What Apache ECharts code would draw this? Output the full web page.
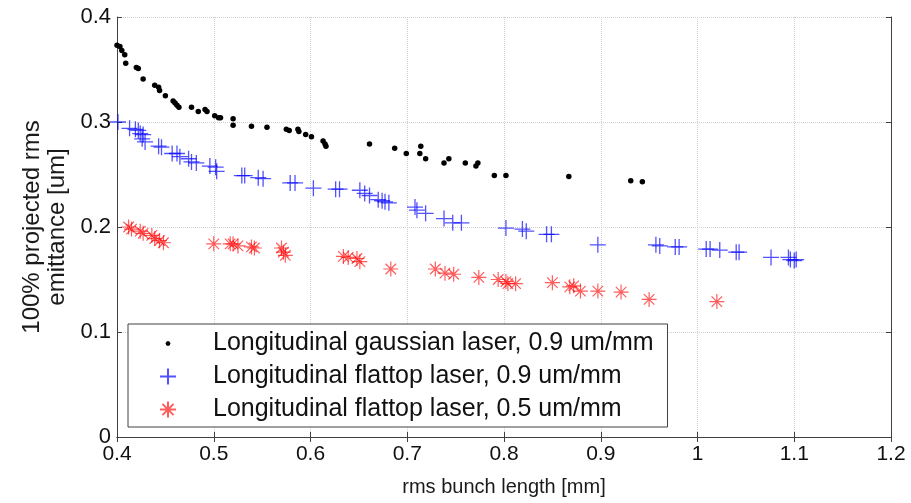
<!DOCTYPE html>
<html>
<head>
<meta charset="utf-8">
<script src="https://cdn.jsdelivr.net/npm/echarts@6/dist/echarts.min.js"></script>
<style>
  html, body { margin: 0; padding: 0; background: #fff; }
  #chart { width: 911px; height: 503px; }
</style>
</head>
<body>
<div id="chart"></div>
<script>
// gaussian laser, 0.9 um/mm
var gaussX = [0.400, 0.403, 0.405, 0.408, 0.409, 0.420, 0.422, 0.427, 0.439, 0.443, 0.444, 0.450, 0.458, 0.460, 0.462, 0.464, 0.477, 0.484, 0.491, 0.493, 0.501, 0.505, 0.507, 0.520, 0.520, 0.539, 0.555, 0.575, 0.578, 0.587, 0.588, 0.595, 0.601, 0.613, 0.615, 0.616, 0.661, 0.687, 0.699, 0.714, 0.713, 0.719, 0.738, 0.743, 0.760, 0.771, 0.773, 0.790, 0.802, 0.867, 0.931, 0.943];
var gaussY = [0.373, 0.372, 0.368, 0.364, 0.356, 0.352, 0.351, 0.341, 0.335, 0.333, 0.330, 0.325, 0.320, 0.318, 0.316, 0.314, 0.314, 0.310, 0.312, 0.310, 0.306, 0.304, 0.304, 0.303, 0.297, 0.296, 0.295, 0.293, 0.292, 0.293, 0.291, 0.288, 0.286, 0.282, 0.279, 0.277, 0.279, 0.275, 0.270, 0.277, 0.270, 0.265, 0.261, 0.265, 0.261, 0.258, 0.261, 0.249, 0.249, 0.248, 0.244, 0.243];
// flattop laser, 0.9 um/mm
var flat9X = [0.401, 0.413, 0.419, 0.422, 0.424, 0.427, 0.426, 0.429, 0.443, 0.446, 0.457, 0.462, 0.465, 0.474, 0.477, 0.482, 0.496, 0.502, 0.503, 0.529, 0.532, 0.546, 0.551, 0.579, 0.584, 0.603, 0.626, 0.630, 0.651, 0.656, 0.661, 0.670, 0.674, 0.677, 0.681, 0.708, 0.710, 0.719, 0.738, 0.747, 0.756, 0.802, 0.819, 0.823, 0.844, 0.849, 0.897, 0.957, 0.961, 0.977, 0.981, 1.009, 1.013, 1.023, 1.040, 1.043, 1.076, 1.094, 1.096, 1.100, 1.102];
var flat9Y = [0.300, 0.294, 0.293, 0.292, 0.289, 0.288, 0.284, 0.281, 0.277, 0.276, 0.270, 0.270, 0.267, 0.265, 0.262, 0.261, 0.258, 0.257, 0.253, 0.249, 0.249, 0.247, 0.246, 0.242, 0.242, 0.237, 0.236, 0.236, 0.235, 0.232, 0.230, 0.226, 0.225, 0.224, 0.223, 0.219, 0.216, 0.213, 0.208, 0.204, 0.204, 0.199, 0.198, 0.196, 0.193, 0.193, 0.183, 0.183, 0.182, 0.181, 0.181, 0.179, 0.179, 0.178, 0.176, 0.176, 0.171, 0.171, 0.169, 0.168, 0.169];
// flattop laser, 0.5 um/mm
var flat5X = [0.412, 0.415, 0.424, 0.427, 0.436, 0.439, 0.444, 0.448, 0.500, 0.517, 0.520, 0.525, 0.539, 0.542, 0.570, 0.572, 0.574, 0.634, 0.639, 0.648, 0.651, 0.683, 0.729, 0.739, 0.748, 0.774, 0.794, 0.802, 0.804, 0.812, 0.850, 0.868, 0.872, 0.879, 0.897, 0.921, 0.950, 1.020];
var flat5Y = [0.200, 0.198, 0.196, 0.194, 0.192, 0.189, 0.187, 0.185, 0.184, 0.184, 0.184, 0.182, 0.181, 0.180, 0.180, 0.176, 0.173, 0.172, 0.171, 0.170, 0.167, 0.160, 0.160, 0.156, 0.155, 0.152, 0.150, 0.148, 0.146, 0.146, 0.147, 0.143, 0.144, 0.139, 0.139, 0.138, 0.131, 0.129];

var seriesNames = [
  'Longitudinal gaussian laser, 0.9 um/mm',
  'Longitudinal flattop laser, 0.9 um/mm',
  'Longitudinal flattop laser, 0.5 um/mm'
];
var xTicks = { min: 0.4, max: 1.2, step: 0.1 };
var yTicks = { min: 0, max: 0.4, step: 0.1 };

function pairs(xs, ys) {
  return xs.map(function (x, i) { return [x, ys[i]]; });
}

var FONT = 'Liberation Sans';
var PLUS = 'path://M0,5L10,5M5,0L5,10';
var STAR = 'path://M0,5L10,5M5,0L5,10M1.5,1.5L8.5,8.5M1.5,8.5L8.5,1.5';
// small dot inside a 16x16 box for the legend
var DOT_ICON = 'path://M0,0M16,16M10.4,8L9.7,9.7L8,10.4L6.3,9.7L5.6,8L6.3,6.3L8,5.6L9.7,6.3Z';

var chart = echarts.init(document.getElementById('chart'));

var frameAxis = {
  type: 'value',
  axisLine: { show: true, lineStyle: { color: '#404040', width: 1 } },
  axisTick: { show: true, inside: true, length: 5, lineStyle: { color: '#404040' } },
  axisLabel: { show: false },
  splitLine: { show: false }
};

var option = {
  animation: false,
  backgroundColor: '#fff',
  grid: { left: 117, right: 20, top: 17, bottom: 66, containLabel: false },
  xAxis: [{
    type: 'value',
    min: xTicks.min, max: xTicks.max, interval: xTicks.step,
    name: 'rms bunch length [mm]',
    nameLocation: 'middle',
    nameGap: 40,
    nameTextStyle: { fontFamily: FONT, fontSize: 20, color: '#1a1a1a' },
    axisLine: { show: true, lineStyle: { color: '#404040', width: 1 } },
    axisTick: { show: true, inside: true, length: 5, lineStyle: { color: '#404040' } },
    axisLabel: { fontFamily: FONT, fontSize: 21, color: '#111', margin: 7 },
    splitLine: { show: true, lineStyle: { type: 'dotted', color: '#cfcfcf', width: 1 } }
  }, Object.assign({}, frameAxis, {
    position: 'top', min: xTicks.min, max: xTicks.max, interval: xTicks.step
  })],
  yAxis: [{
    type: 'value',
    min: yTicks.min, max: yTicks.max, interval: yTicks.step,
    name: '100% projected rms\nemittance [um]',
    nameLocation: 'middle',
    nameGap: 41,
    nameTextStyle: { fontFamily: FONT, fontSize: 24, color: '#1a1a1a', lineHeight: 25 },
    axisLine: { show: true, lineStyle: { color: '#404040', width: 1 } },
    axisTick: { show: true, inside: true, length: 5, lineStyle: { color: '#404040' } },
    axisLabel: { fontFamily: FONT, fontSize: 22, color: '#111', margin: 6 },
    splitLine: { show: true, lineStyle: { type: 'dotted', color: '#cfcfcf', width: 1 } }
  }, Object.assign({}, frameAxis, {
    position: 'right', min: yTicks.min, max: yTicks.max, interval: yTicks.step
  })],
  legend: {
    orient: 'vertical',
    left: 128,
    top: 324,
    padding: [7, 14, 5, 31],
    itemWidth: 16,
    itemHeight: 16,
    itemGap: 8,
    backgroundColor: '#fff',
    borderColor: '#404040',
    borderWidth: 1,
    borderRadius: 0,
    selectedMode: false,
    textStyle: { fontFamily: FONT, fontSize: 25, color: '#111', lineHeight: 25, padding: [0, 0, 0, 32] },
    data: [
      { name: seriesNames[0], icon: DOT_ICON },
      { name: seriesNames[1] },
      { name: seriesNames[2] }
    ]
  },
  series: [{
    name: seriesNames[0],
    type: 'scatter',
    symbol: 'circle',
    symbolSize: 5.5,
    itemStyle: { color: '#000', opacity: 1 },
    data: pairs(gaussX, gaussY),
    z: 3
  }, {
    name: seriesNames[1],
    type: 'scatter',
    symbol: PLUS,
    symbolSize: 16,
    itemStyle: { color: 'rgba(0,0,255,0.85)', borderColor: 'rgba(0,0,255,0.85)', borderWidth: 1.3 },
    data: pairs(flat9X, flat9Y),
    z: 2
  }, {
    name: seriesNames[2],
    type: 'scatter',
    symbol: STAR,
    symbolSize: 15,
    itemStyle: { color: 'rgba(255,0,0,0.8)', borderColor: 'rgba(255,0,0,0.8)', borderWidth: 1.2 },
    data: pairs(flat5X, flat5Y),
    z: 2
  }]
};

chart.setOption(option);
</script>
</body>
</html>
